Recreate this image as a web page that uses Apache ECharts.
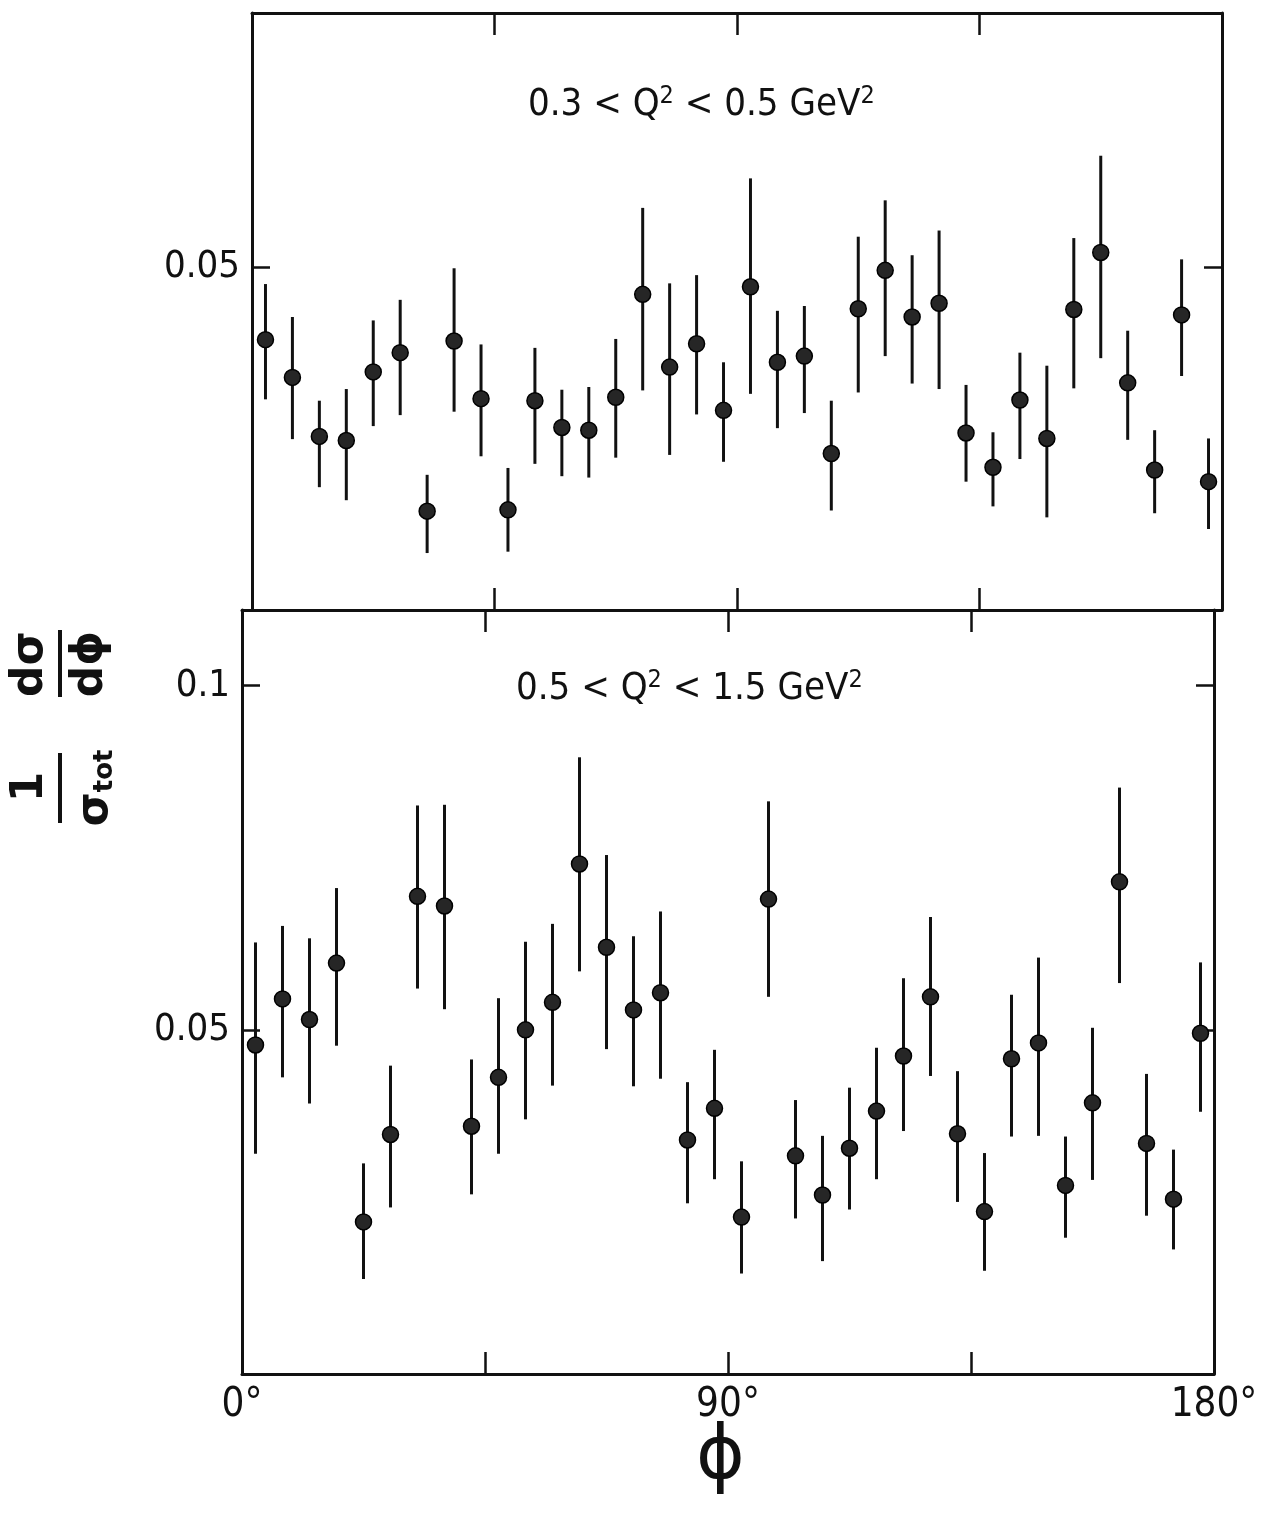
<!DOCTYPE html>
<html><head><meta charset="utf-8">
<script src="https://cdn.jsdelivr.net/npm/echarts@6/dist/echarts.min.js"></script>
<style>html,body{margin:0;padding:0;background:#fff}#c{width:1270px;height:1515px}</style>
</head><body><div id="c"></div>
<script>
// phi bin centres (degrees)
const phiCenters = [2.5, 7.5, 12.5, 17.5, 22.5, 27.5, 32.5, 37.5, 42.5, 47.5, 52.5, 57.5,
  62.5, 67.5, 72.5, 77.5, 82.5, 87.5, 92.5, 97.5, 102.5, 107.5, 112.5, 117.5,
  122.5, 127.5, 132.5, 137.5, 142.5, 147.5, 152.5, 157.5, 162.5, 167.5, 172.5, 177.5];

// 0.3 < Q^2 < 0.5 GeV^2
const topValues = [0.0394, 0.0339, 0.0253, 0.0247, 0.0347, 0.0375, 0.0144, 0.0392, 0.0308, 0.0146, 0.0305, 0.0266,
  0.0262, 0.0310, 0.0460, 0.0354, 0.0388, 0.0291, 0.0471, 0.0361, 0.0370, 0.0228, 0.0439, 0.0495,
  0.0427, 0.0447, 0.0258, 0.0208, 0.0306, 0.0250, 0.0438, 0.0521, 0.0331, 0.0204, 0.0430, 0.0187];
const topHigh = [0.0475, 0.0427, 0.0305, 0.0322, 0.0422, 0.0452, 0.0197, 0.0498, 0.0387, 0.0207, 0.0382, 0.0321,
  0.0325, 0.0395, 0.0586, 0.0476, 0.0488, 0.0361, 0.0629, 0.0436, 0.0443, 0.0305, 0.0544, 0.0597,
  0.0517, 0.0553, 0.0328, 0.0259, 0.0375, 0.0356, 0.0542, 0.0662, 0.0407, 0.0262, 0.0511, 0.0250];
const topLow = [0.0307, 0.0249, 0.0179, 0.0160, 0.0268, 0.0284, 0.0083, 0.0289, 0.0224, 0.0085, 0.0213, 0.0195,
  0.0193, 0.0222, 0.0320, 0.0226, 0.0285, 0.0216, 0.0315, 0.0265, 0.0287, 0.0145, 0.0317, 0.0370,
  0.0330, 0.0322, 0.0187, 0.0151, 0.0220, 0.0135, 0.0323, 0.0367, 0.0248, 0.0141, 0.0341, 0.0118];

// 0.5 < Q^2 < 1.5 GeV^2
const botValues = [0.0478, 0.0545, 0.0515, 0.0597, 0.0221, 0.0348, 0.0694, 0.0680, 0.0360, 0.0431, 0.0500, 0.0540,
  0.0741, 0.0620, 0.0529, 0.0554, 0.0340, 0.0386, 0.0228, 0.0690, 0.0317, 0.0260, 0.0328, 0.0382,
  0.0462, 0.0548, 0.0349, 0.0236, 0.0458, 0.0481, 0.0274, 0.0394, 0.0715, 0.0335, 0.0254, 0.0495];
const botHigh = [0.0627, 0.0651, 0.0633, 0.0706, 0.0306, 0.0448, 0.0826, 0.0827, 0.0457, 0.0546, 0.0628, 0.0654,
  0.0896, 0.0754, 0.0636, 0.0672, 0.0424, 0.0471, 0.0309, 0.0832, 0.0398, 0.0346, 0.0416, 0.0474,
  0.0575, 0.0664, 0.0440, 0.0321, 0.0551, 0.0605, 0.0345, 0.0503, 0.0852, 0.0436, 0.0326, 0.0598];
const botLow = [0.0320, 0.0431, 0.0393, 0.0477, 0.0138, 0.0242, 0.0560, 0.0530, 0.0261, 0.0320, 0.0370, 0.0419,
  0.0585, 0.0472, 0.0418, 0.0429, 0.0248, 0.0283, 0.0146, 0.0548, 0.0226, 0.0164, 0.0239, 0.0283,
  0.0353, 0.0433, 0.0250, 0.0150, 0.0345, 0.0346, 0.0198, 0.0282, 0.0568, 0.0230, 0.0181, 0.0381];

const xTickLabels = {0: '0°', 90: '90°', 180: '180°'};
const topYLabels = {0.05: '0.05'};
const botYLabels = {0.05: '0.05', 0.1: '0.1'};
const topTitle = ['0.3 < Q', '2', ' < 0.5 GeV', '2'];
const botTitle = ['0.5 < Q', '2', ' < 1.5 GeV', '2'];

const FONT = "'Liberation Sans Narrow', 'DejaVu Sans Condensed', 'Arial Narrow', 'Liberation Sans', sans-serif";
const INK = '#111';

const chart = echarts.init(document.getElementById('c'), null, {renderer: 'canvas'});

function fmtFrom(map) {
  return function (v) {
    const key = Math.round(v * 1000) / 1000;
    return map[key] !== undefined ? map[key] : '';
  };
}

function xAxisDef(gridIndex, position, labels) {
  return {
    type: 'value', gridIndex, position, min: 0, max: 180, interval: 45,
    axisLine: {show: true, onZero: false, lineStyle: {color: INK, width: 3}},
    axisTick: {show: true, inside: true, length: 22, lineStyle: {color: INK, width: 2.5}},
    splitLine: {show: false},
    axisLabel: labels ? {
      show: true, margin: 12, color: INK, fontSize: 40, fontFamily: FONT,
      showMinLabel: true, showMaxLabel: true,
      formatter: v => xTickLabels[v] !== undefined ? xTickLabels[v] : ''
    } : {show: false}
  };
}

function yAxisDef(gridIndex, position, max, labels) {
  return {
    type: 'value', gridIndex, position, min: 0, max, interval: 0.05,
    axisLine: {show: true, onZero: false, lineStyle: {color: INK, width: 3}},
    axisTick: {show: true, inside: true, length: 18, lineStyle: {color: INK, width: 2.5}},
    splitLine: {show: false},
    axisLabel: labels ? {
      show: true, margin: 12, color: INK, fontSize: 38, fontFamily: FONT,
      formatter: fmtFrom(labels)
    } : {show: false}
  };
}

function errRender(params, api) {
  const x = api.value(0), lo = api.value(1), hi = api.value(2);
  const p1 = api.coord([x, lo]), p2 = api.coord([x, hi]);
  return {
    type: 'line',
    shape: {x1: p1[0], y1: p1[1], x2: p2[0], y2: p2[1]},
    style: {stroke: INK, lineWidth: 3}
  };
}

function panelSeries(xIdx, yIdx, vals, lo, hi) {
  return [
    {
      type: 'custom', xAxisIndex: xIdx, yAxisIndex: yIdx,
      renderItem: errRender,
      encode: {x: 0, y: [1, 2]},
      data: phiCenters.map((p, i) => [p, lo[i], hi[i]]),
      z: 2
    },
    {
      type: 'scatter', xAxisIndex: xIdx, yAxisIndex: yIdx,
      symbol: 'circle', symbolSize: 16,
      itemStyle: {color: '#262626', borderColor: '#000', borderWidth: 1.5, opacity: 1},
      data: phiCenters.map((p, i) => [p, vals[i]]),
      z: 3
    }
  ];
}

function titleText(parts, x, y) {
  return {
    type: 'text', left: x, top: y,
    style: {
      text: '{n|' + parts[0] + '}{s|' + parts[1] + '}{n|' + parts[2] + '}{s|' + parts[3] + '}',
      rich: {
        n: {fontSize: 38, fontFamily: FONT, fill: INK, lineHeight: 40, verticalAlign: 'bottom'},
        s: {fontSize: 25, fontFamily: FONT, fill: INK, lineHeight: 24, verticalAlign: 'top'}
      }
    }
  };
}

const option = {
  animation: false,
  backgroundColor: '#fff',
  grid: [
    {left: 252, right: 48, top: 13, height: 597, containLabel: false},
    {left: 242, right: 56, top: 610, height: 764, containLabel: false}
  ],
  xAxis: [
    xAxisDef(0, 'bottom', false),
    xAxisDef(0, 'top', false),
    xAxisDef(1, 'bottom', true),
    xAxisDef(1, 'top', false)
  ],
  yAxis: [
    yAxisDef(0, 'left', 0.087, topYLabels),
    yAxisDef(0, 'right', 0.087, null),
    yAxisDef(1, 'left', 0.111, botYLabels),
    yAxisDef(1, 'right', 0.111, null)
  ],
  series: [
    ...panelSeries(0, 0, topValues, topLow, topHigh),
    ...panelSeries(2, 2, botValues, botLow, botHigh)
  ],
  graphic: [
    titleText(topTitle, 528, 84),
    titleText(botTitle, 516, 668),
    {
      type: 'text', left: 696, top: 1422,
      style: {text: 'ϕ', fontSize: 74, fontFamily: "'DejaVu Sans', sans-serif", fill: INK}
    },
    {
      type: 'group', x: 60, y: 730, rotation: Math.PI / 2,
      children: [
        {type: 'text', x: -57, y: -29, style: {text: '1', fontSize: 44, fontWeight: 'bold', fontFamily: "'DejaVu Sans', sans-serif", fill: INK, align: 'center', verticalAlign: 'middle'}},
        {type: 'line', shape: {x1: -93, y1: 0, x2: -23, y2: 0}, style: {stroke: INK, lineWidth: 4}},
        {type: 'text', x: -58, y: 36, style: {
          text: '{a|σ}{b|tot}', align: 'center', verticalAlign: 'middle',
          rich: {
            a: {fontSize: 44, fontWeight: 'bold', fontFamily: "'DejaVu Sans', sans-serif", fill: INK, verticalAlign: 'top', lineHeight: 44},
            b: {fontSize: 26, fontWeight: 'bold', fontFamily: "'DejaVu Sans', sans-serif", fill: INK, verticalAlign: 'bottom', lineHeight: 26}
          }
        }},
        {type: 'text', x: 66, y: -29, style: {text: 'dσ', fontSize: 44, fontWeight: 'bold', fontFamily: "'DejaVu Sans', sans-serif", fill: INK, align: 'center', verticalAlign: 'middle'}},
        {type: 'line', shape: {x1: 33, y1: 0, x2: 100, y2: 0}, style: {stroke: INK, lineWidth: 4}},
        {type: 'text', x: 66, y: 31, style: {text: 'dϕ', fontSize: 44, fontWeight: 'bold', fontFamily: "'DejaVu Sans', sans-serif", fill: INK, align: 'center', verticalAlign: 'middle'}}
      ]
    }
  ]
};
chart.setOption(option);
</script>
</body></html>
